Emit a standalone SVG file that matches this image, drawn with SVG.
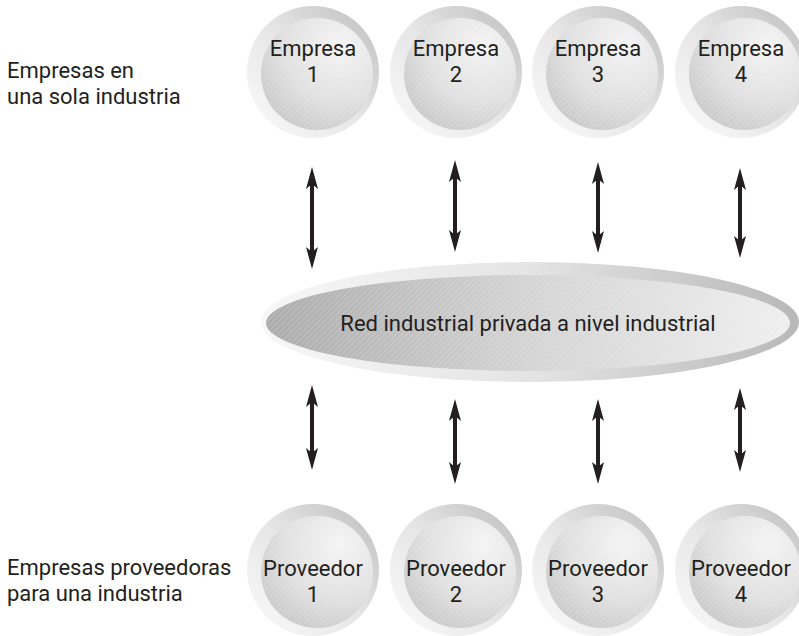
<svg xmlns="http://www.w3.org/2000/svg" width="799" height="636" viewBox="0 0 799 636">
<defs>
<linearGradient id="ring" x1="0" y1="1" x2="1" y2="0">
<stop offset="0" stop-color="#fbfbfb"/>
<stop offset="0.5" stop-color="#e6e6e6"/>
<stop offset="1" stop-color="#bdbdbd"/>
</linearGradient>
<radialGradient id="disk" cx="0.7" cy="0.25" r="0.85">
<stop offset="0" stop-color="#f4f4f4"/>
<stop offset="0.6" stop-color="#e0e0e0"/>
<stop offset="1" stop-color="#c8c8c8"/>
</radialGradient>
<linearGradient id="ering" x1="0" y1="0" x2="1" y2="0">
<stop offset="0" stop-color="#f7f7f7"/>
<stop offset="0.5" stop-color="#e4e4e4"/>
<stop offset="1" stop-color="#b8b8b8"/>
</linearGradient>
<linearGradient id="edisk" x1="0" y1="0" x2="1" y2="0">
<stop offset="0" stop-color="#acacac"/>
<stop offset="0.5" stop-color="#d4d4d4"/>
<stop offset="1" stop-color="#efefef"/>
</linearGradient>
<pattern id="hatch" width="4" height="4" patternUnits="userSpaceOnUse" patternTransform="rotate(45)">
<line x1="0" y1="0" x2="0" y2="4" stroke="#ffffff" stroke-opacity="0.35" stroke-width="1"/>
</pattern>
<marker id="ah" viewBox="0 0 22 12" refX="10" refY="6" markerWidth="22" markerHeight="12" markerUnits="userSpaceOnUse" orient="auto-start-reverse">
<path d="M22 6 L0 0 L5 6 L0 12 Z" fill="#231f20"/>
</marker>
</defs>
<style>
.ring{fill:url(#ring)}
.disk{fill:url(#disk)}
.hat{fill:url(#hatch)}
.t{font-family:"Roboto","Liberation Sans",sans-serif;fill:#231f20;font-size:22px}
.c{text-anchor:middle}
.arr{stroke:#231f20;stroke-width:4;fill:none;marker-start:url(#ah);marker-end:url(#ah)}
</style>
<rect width="799" height="636" fill="#ffffff"/>

<g id="label-top">
<text class="t" x="7" y="78">Empresas en</text>
<text class="t" x="7" y="104">una sola industria</text>
</g>
<g id="label-bottom">
<text class="t" x="7" y="575">Empresas proveedoras</text>
<text class="t" x="7" y="601">para una industria</text>
</g>

<g id="empresa1"><circle class="ring" cx="313" cy="72" r="66"/><circle class="disk" cx="317" cy="74" r="56"/><circle class="hat" cx="317" cy="74" r="56"/><text class="t c" x="313" y="56">Empresa</text><text class="t c" x="313" y="82">1</text></g>
<g id="empresa2"><circle class="ring" cx="456" cy="72" r="66"/><circle class="disk" cx="460" cy="74" r="56"/><circle class="hat" cx="460" cy="74" r="56"/><text class="t c" x="456" y="56">Empresa</text><text class="t c" x="456" y="82">2</text></g>
<g id="empresa3"><circle class="ring" cx="598" cy="72" r="66"/><circle class="disk" cx="602" cy="74" r="56"/><circle class="hat" cx="602" cy="74" r="56"/><text class="t c" x="598" y="56">Empresa</text><text class="t c" x="598" y="82">3</text></g>
<g id="empresa4"><circle class="ring" cx="741" cy="72" r="66"/><circle class="disk" cx="745" cy="74" r="56"/><circle class="hat" cx="745" cy="74" r="56"/><text class="t c" x="741" y="56">Empresa</text><text class="t c" x="741" y="82">4</text></g>

<g id="red">
<ellipse cx="530" cy="322" rx="269" ry="60" fill="url(#ering)"/>
<ellipse cx="528" cy="323" rx="262" ry="48" fill="url(#edisk)"/>
<ellipse cx="528" cy="323" rx="262" ry="48" class="hat"/>
<text class="t c" x="528" y="331">Red industrial privada a nivel industrial</text>
</g>

<g id="proveedor1"><circle class="ring" cx="313" cy="570" r="66"/><circle class="disk" cx="317" cy="572" r="56"/><circle class="hat" cx="317" cy="572" r="56"/><text class="t c" x="313" y="576">Proveedor</text><text class="t c" x="313" y="602">1</text></g>
<g id="proveedor2"><circle class="ring" cx="456" cy="570" r="66"/><circle class="disk" cx="460" cy="572" r="56"/><circle class="hat" cx="460" cy="572" r="56"/><text class="t c" x="456" y="576">Proveedor</text><text class="t c" x="456" y="602">2</text></g>
<g id="proveedor3"><circle class="ring" cx="598" cy="570" r="66"/><circle class="disk" cx="602" cy="572" r="56"/><circle class="hat" cx="602" cy="572" r="56"/><text class="t c" x="598" y="576">Proveedor</text><text class="t c" x="598" y="602">3</text></g>
<g id="proveedor4"><circle class="ring" cx="741" cy="570" r="66"/><circle class="disk" cx="745" cy="572" r="56"/><circle class="hat" cx="745" cy="572" r="56"/><text class="t c" x="741" y="576">Proveedor</text><text class="t c" x="741" y="602">4</text></g>

<g id="connectors">
<line class="arr" x1="312" y1="179" x2="312" y2="257"/>
<line class="arr" x1="455" y1="172" x2="455" y2="240"/>
<line class="arr" x1="598" y1="174" x2="598" y2="241"/>
<line class="arr" x1="740" y1="180" x2="740" y2="246"/>
<line class="arr" x1="312" y1="397" x2="312" y2="458"/>
<line class="arr" x1="455" y1="411" x2="455" y2="472"/>
<line class="arr" x1="598" y1="411" x2="598" y2="472"/>
<line class="arr" x1="740" y1="400" x2="740" y2="460"/>
</g>
</svg>
